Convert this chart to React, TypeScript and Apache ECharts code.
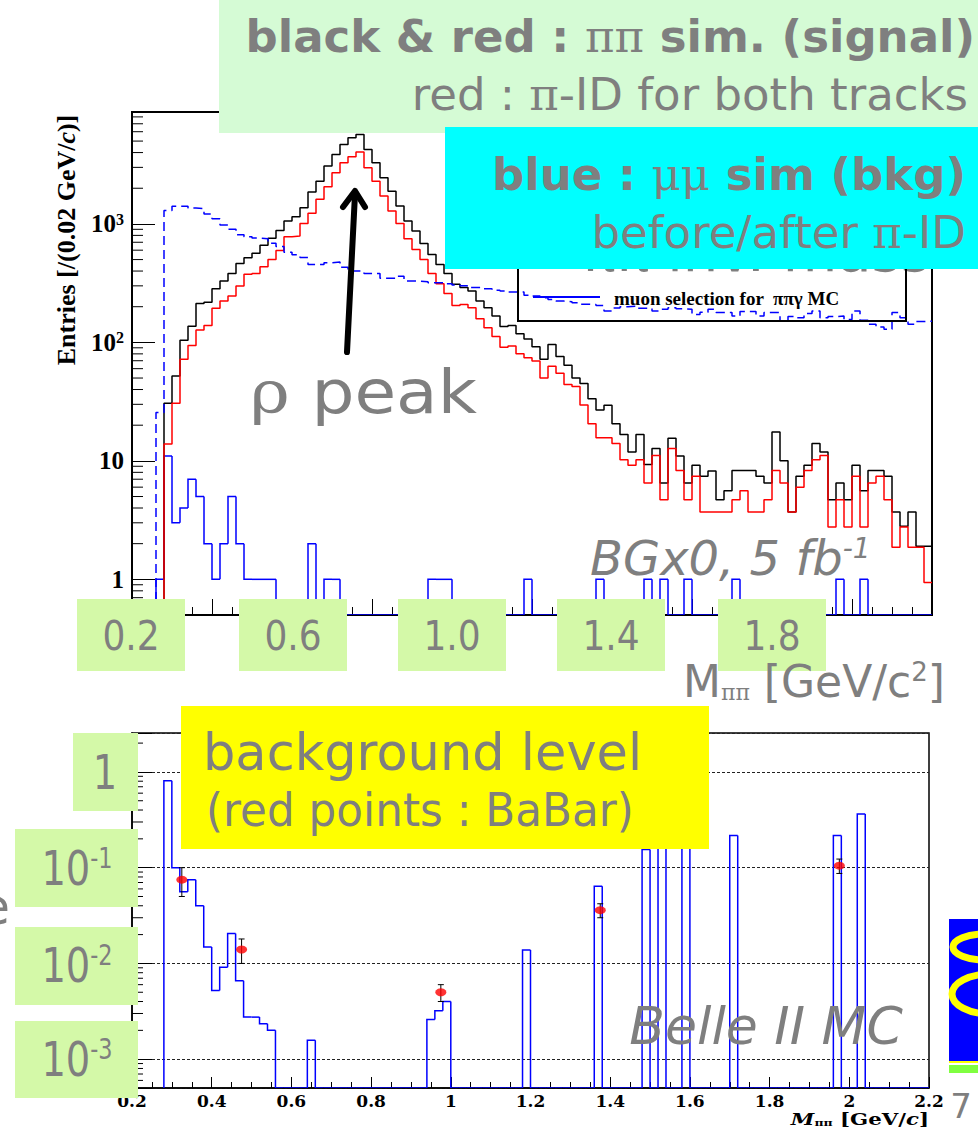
import React, { useEffect, useRef } from 'react';
import * as echarts from 'echarts';

// ---- binning and axis ranges ----
const BIN = 0.02;
const X_MIN = 0.2;
const X_MAX = 2.2;
const TOP_Y_MIN = 0.5;
const TOP_Y_MAX = 8800;
const BOT_Y_MIN = 5e-4;
const BOT_Y_MAX = 2.55;

// ---- upper panel: entries per 0.02 GeV/c ----
// pi pi simulation, all events (black), bins from 0.28
const pipiStart = 0.28;
const pipiAll = [
  30.6, 52, 104, 137, 213, 218, 284, 329, 382, 464,
  519, 564, 659, 755, 881, 1057, 1150, 1370, 1855, 2296,
  3075, 3855, 4690, 5340, 5690, 4255, 3280, 2455, 1890, 1415,
  1057, 870, 684, 553, 455, 382, 309, 290, 271, 223,
  196, 167, 136, 139, 118, 107, 92, 72, 96, 76,
  64, 50, 45, 33.5, 26.9, 29.4, 20.6, 16.7, 11.9, 16.7,
  9.3, 12.7, 6.5, 15.5, 11, 6.5, 9.2, 7.4, 8.2, 4.7,
  5.6, 8.3, 8.3, 8.3, 7.4, 6.5, 17.5, 10, 3.7, 7.4,
  9.2, 14, 11.9, 4.7, 6.5, 4.7, 9.2, 5.6, 8.3, 8.3,
  7.4, 3.7, 2.8, 3.7, 1.9, 1.9,
];
// pi pi simulation with pi-ID on both tracks (red), bins from 0.28
const pipiPid = [
  13.9, 30.6, 72, 94, 127, 139, 194, 223, 246, 299,
  375, 382, 435, 500, 597, 780, 790, 1009, 1227, 1612,
  2060, 2705, 3280, 3690, 4035, 2980, 2296, 1718, 1282, 1009,
  750, 609, 500, 382, 313, 259, 205, 209, 196, 158,
  133, 112, 91, 93, 80, 74, 69.5, 50, 63, 55,
  44, 42.5, 29.6, 20.6, 15.7, 15.7, 14, 10.2, 9.2, 10.2,
  6.5, 11.1, 4.7, 12.7, 8.3, 4.7, 7.4, 3.7, 3.7, 3.7,
  3.7, 4.7, 5.6, 3.7, 3.7, 4.7, 8.3, 6.5, 3.7, 6,
  8.3, 10.2, 11.1, 2.76, 4.7, 2.76, 7.4, 2.76, 6.5, 7.4,
  4.7, 1.87, 2.76, 1.87, 1.87, 0.94,
];
// mu mu simulation before pi-ID (blue dashed), bins from 0.26
const mumuStart = 0.26;
const mumuBefore = [
  25.6, 1300, 1410, 1410, 1360, 1350, 1210, 1105, 980, 900,
  810, 780, 760, 750, 685, 645, 575, 550, 520, 455,
  455, 470, 476, 430, 400, 400, 382, 382, 347, 347,
  362, 329, 329, 325, 319, 319, 312, 305, 300, 290,
  290, 284, 276, 271, 266, 266, 250, 246, 238, 230,
  223, 220, 216, 210, 209, 205, 184, 195, 200, 202,
  194, 194, 184, 190, 196, 192, 190, 172, 180, 190,
  179, 179, 167, 182, 182, 167, 179, 179, 151, 165,
  161, 175, 184, 161, 165, 167, 156, 184, 154, 142,
  135, 129, 179, 161, 142, 150, 151,
];
// mu mu simulation after pi-ID (blue solid): [bin low edge, entries], empty bins omitted
const mumuAfter = [
  [0.26, 1], [0.28, 11], [0.30, 3], [0.32, 4], [0.34, 7], [0.36, 5], [0.38, 2], [0.40, 1],
  [0.42, 2], [0.44, 5], [0.46, 2], [0.48, 1], [0.50, 1], [0.52, 1], [0.54, 1], [0.64, 2],
  [0.68, 1], [0.70, 1], [0.94, 1], [0.96, 1], [0.98, 1], [1.18, 1], [1.36, 1], [1.48, 1],
  [1.52, 1], [1.58, 1], [1.70, 1], [1.96, 1], [2.02, 1],
];

// ---- lower panel: background level ----
const bkgLevel = [
  [0.28, 0.81], [0.30, 0.10], [0.32, 0.056], [0.34, 0.075], [0.36, 0.040], [0.38, 0.0148],
  [0.40, 0.0052], [0.42, 0.0091], [0.44, 0.0205], [0.46, 0.0066], [0.48, 0.00275],
  [0.50, 0.00275], [0.52, 0.00235], [0.54, 0.0020], [0.64, 0.00158], [0.94, 0.0026],
  [0.96, 0.0032], [0.98, 0.0040], [1.18, 0.0138], [1.36, 0.064], [1.48, 0.155],
  [1.52, 0.21], [1.58, 0.21], [1.70, 0.217], [1.96, 0.217], [2.02, 0.363],
];
// BaBar points with error bars
const babarMass = [0.325, 0.475, 0.975, 1.375, 1.975];
const babarLevel = [0.075, 0.014, 0.005, 0.036, 0.105];
const babarLow = [0.05, 0.01, 0.004, 0.030, 0.087];
const babarHigh = [0.10, 0.018, 0.006, 0.042, 0.123];

// ---- tick labels ----
const topXTickLabels = ['0.2', '0.6', '1.0', '1.4', '1.8'];
const bottomYTickLabels = [['1', ''], ['10', '-1'], ['10', '-2'], ['10', '-3']];
const logMinorSteps = [2, 3, 4, 5, 6, 7, 8, 9];
const topDecades = [0.1, 1, 10, 100, 1000];
const bottomDecades = [0.0001, 0.001, 0.01, 0.1, 1];

// ---- helpers ----
const binKey = (x: number) => Math.round(x / BIN);

function denseBins(start: number, values: number[]): number[][] {
  return values.map((v, i) => [(binKey(start) + i) * BIN, v]);
}
function fillBins(pairs: number[][], start: number, end: number): number[][] {
  const m = new Map(pairs.map(([x, v]) => [binKey(x), v]));
  const out: number[][] = [];
  for (let k = binKey(start); k <= binKey(end); k++) out.push([k * BIN, m.get(k) ?? 0]);
  return out;
}
// one piece per bin: [low, 1, high, value, previous value]
function stepPieces(bins: number[][]) {
  return bins.map(([x, v], i) => [x, 1, x + BIN, v, i ? bins[i - 1][1] : 0]);
}
// outline for a step line series starting from the axis floor
function stepLine(bins: number[][], floor: number) {
  const last = bins[bins.length - 1];
  return [[bins[0][0], floor], ...bins, [last[0] + BIN, last[1]]];
}
function minorTicks(decades: number[], lo: number, hi: number) {
  return decades.flatMap((d) => logMinorSteps.map((s) => s * d)).filter((v) => v > lo && v < hi);
}

const histRender = (color: string) => (params: any, api: any) => {
  const cs = params.coordSys;
  const bottom = cs.y + cs.height;
  const lo = api.value(0);
  const xl = api.coord([lo, 1])[0];
  const xr = api.coord([api.value(2), 1])[0];
  const yOf = (v: number) => (v > 0 ? Math.min(api.coord([lo, v])[1], bottom) : bottom);
  const yv = yOf(api.value(3));
  const yp = yOf(api.value(4));
  return {
    type: 'polyline',
    silent: true,
    shape: { points: [[xl, yp], [xl, yv], [xr, yv]] },
    style: { stroke: color, lineWidth: 1.5, fill: 'none' },
  };
};

const minorTickRender = (len: number) => (params: any, api: any) => {
  const p = api.coord([api.value(0), api.value(1)]);
  return {
    type: 'line',
    silent: true,
    shape: { x1: p[0], y1: p[1], x2: p[0] + len, y2: p[1] },
    style: { stroke: '#000', lineWidth: 1 },
  };
};

const errorBarRender = (params: any, api: any) => {
  const x = api.value(0);
  const lo = api.coord([x, api.value(2)]);
  const hi = api.coord([x, api.value(3)]);
  const st = { stroke: '#000', lineWidth: 1 };
  return {
    type: 'group',
    silent: true,
    children: [
      { type: 'line', shape: { x1: lo[0], y1: lo[1], x2: hi[0], y2: hi[1] }, style: st },
      { type: 'line', shape: { x1: lo[0] - 3, y1: lo[1], x2: lo[0] + 3, y2: lo[1] }, style: st },
      { type: 'line', shape: { x1: hi[0] - 3, y1: hi[1], x2: hi[0] + 3, y2: hi[1] }, style: st },
    ],
  };
};

// ---- overlay styling ----
const GREY = '#7f7f7f';
const SANS = '"DejaVu Sans", sans-serif';
const GREEK = '"DejaVu Serif", serif';
const ROOT_FONT = '"Liberation Serif", "Times New Roman", serif';
const WIDE_SERIF = '"DejaVu Serif", serif';

function txt(text: string, x: number, y: number, fontSize: number, o: any = {}) {
  return {
    type: 'text',
    x,
    y,
    z: o.z ?? 100,
    silent: true,
    scaleX: o.scaleX ?? 1,
    rotation: o.rotation ?? 0,
    style: {
      text,
      fill: o.fill ?? GREY,
      fontSize,
      fontFamily: o.fontFamily ?? SANS,
      fontWeight: o.fontWeight ?? 'normal',
      fontStyle: o.fontStyle ?? 'normal',
      align: o.align ?? 'left',
      verticalAlign: 'middle',
      rich: o.rich,
    },
  };
}
function box(x: number, y: number, w: number, h: number, fill: string, z = 100) {
  return { type: 'rect', z, silent: true, shape: { x, y, width: w, height: h }, style: { fill } };
}
const greek = (fontSize: number, fill = GREY) => ({ fontFamily: GREEK, fontWeight: 'normal', fontSize, fill });

function buildGraphics() {
  const els: any[] = [];
  // title box
  els.push(box(219, 0, 759, 133, '#d5fbd5', 100));
  els.push(txt('black & red : {g|ππ} sim. (signal)', 975, 36, 45, { align: 'right', fontWeight: 'bold', z: 101, rich: { g: greek(45) } }));
  els.push(txt('red : {g|π}-ID for both tracks', 968, 94, 45, { align: 'right', z: 101, rich: { g: greek(45) } }));
  // partly covered caption under the cyan box
  els.push(txt('ππ inv. mass', 582, 251, 56, { z: 60 }));
  // cyan box
  els.push(box(445, 127, 533, 142, '#00ffff', 102));
  els.push(txt('blue : {g|μμ} sim (bkg)', 966, 174, 45, { align: 'right', fontWeight: 'bold', z: 103, rich: { g: greek(45) } }));
  els.push(txt('before/after {g|π}-ID', 966, 232, 45, { align: 'right', z: 103, rich: { g: greek(45) } }));

  // legend of the upper panel
  els.push({ type: 'rect', z: 60, silent: true, shape: { x: 518, y: 230, width: 388, height: 91 }, style: { fill: 'none', stroke: '#000', lineWidth: 2 } });
  els.push({ type: 'line', z: 60, silent: true, shape: { x1: 533, y1: 297, x2: 600, y2: 297 }, style: { stroke: '#0000ff', lineWidth: 2 } });
  els.push(txt('muon selection for  ππγ MC', 614, 298, 19, { fill: '#000', fontFamily: ROOT_FONT, fontWeight: 'bold', z: 60 }));

  // y title of the upper panel
  els.push(txt('Entries [/(0.02 GeV/{i|c})]', 66, 240, 26, {
    fill: '#000', fontFamily: ROOT_FONT, fontWeight: 'bold', align: 'center', rotation: Math.PI / 2, z: 10,
    rich: { i: { fontFamily: ROOT_FONT, fontWeight: 'bold', fontStyle: 'italic', fontSize: 26, fill: '#000' } },
  }));

  // rho peak annotation
  els.push(txt('{g|ρ} peak', 250, 392, 60, { scaleX: 1.13, rich: { g: greek(60) } }));
  els.push({ type: 'line', z: 100, silent: true, shape: { x1: 347, y1: 352, x2: 355, y2: 194 }, style: { stroke: '#000', lineWidth: 6, lineCap: 'round' } });
  els.push({ type: 'polyline', z: 100, silent: true, shape: { points: [[343, 207], [355, 191], [365, 207]] }, style: { stroke: '#000', lineWidth: 6, fill: 'none', lineCap: 'round', lineJoin: 'round' } });

  // x tick boxes of the upper panel
  const tickBoxLeft = [77, 239, 398, 557, 718];
  topXTickLabels.forEach((t, i) => {
    els.push(box(tickBoxLeft[i], 599, 108, 72, '#d4f9a8'));
    els.push(txt(t, tickBoxLeft[i] + 54, 636, 40, { align: 'center', scaleX: 0.9, z: 101 }));
  });

  els.push(txt('BGx0, 5 fb{s|-1}', 590, 558, 48, {
    fontStyle: 'italic', rich: { s: { fontSize: 28, fontStyle: 'italic', fontFamily: SANS, fill: GREY, verticalAlign: 'top' } },
  }));
  els.push(txt('M{b|ππ} [GeV/c{s|2}]', 945, 681, 44, {
    align: 'right',
    rich: {
      b: { fontSize: 22, fontFamily: GREEK, fill: GREY, verticalAlign: 'bottom' },
      s: { fontSize: 26, fontFamily: SANS, fill: GREY, verticalAlign: 'top' },
    },
  }));

  // lower panel annotations
  els.push(box(181, 706, 528, 143, '#ffff00'));
  els.push(txt('background level', 203, 752, 51, { z: 101 }));
  els.push(txt('(red points : BaBar)', 206, 810, 47, { scaleX: 0.93, z: 101 }));

  const yBox = [[73, 733, 65, 78], [15, 829, 123, 78], [15, 927, 123, 78], [15, 1021, 123, 77]];
  const yText = [[105, 772], [77, 868], [77, 965], [77, 1059]];
  bottomYTickLabels.forEach(([base, exp], i) => {
    const [bx, by, bw, bh] = yBox[i];
    els.push(box(bx, by, bw, bh, '#d4f9a8'));
    const t = exp ? `${base}{s|${exp}}` : base;
    els.push(txt(t, yText[i][0], yText[i][1], 48, {
      align: 'center', scaleX: 0.8, z: 101,
      rich: { s: { fontSize: 28, fontFamily: SANS, fill: GREY, verticalAlign: 'top' } },
    }));
  });
  els.push(txt('e', 10, 907, 50, { align: 'right' }));

  els.push(txt('Belle II MC', 766, 1026, 52, { align: 'center', fontStyle: 'italic' }));
  els.push(txt('{m|M}{b|ππ} [GeV/{c|c}]', 929, 1119, 17, {
    align: 'right', fill: '#000', fontFamily: WIDE_SERIF, fontWeight: 'bold', scaleX: 1.25, z: 10,
    rich: {
      m: { fontFamily: WIDE_SERIF, fontWeight: 'bold', fontStyle: 'italic', fontSize: 17, fill: '#000' },
      b: { fontFamily: WIDE_SERIF, fontWeight: 'bold', fontSize: 10, fill: '#000', verticalAlign: 'bottom' },
      c: { fontFamily: WIDE_SERIF, fontWeight: 'bold', fontStyle: 'italic', fontSize: 17, fill: '#000' },
    },
  }));
  els.push(txt('7', 961, 1106, 34, { align: 'center' }));

  // corner logo strip
  els.push(box(949, 919, 29, 143, '#0000ff'));
  els.push({ type: 'ellipse', z: 101, silent: true, shape: { cx: 985, cy: 947, rx: 32, ry: 13 }, style: { fill: 'none', stroke: '#ffff00', lineWidth: 7 } });
  els.push({ type: 'ellipse', z: 101, silent: true, shape: { cx: 990, cy: 994, rx: 38, ry: 20 }, style: { fill: 'none', stroke: '#ffff00', lineWidth: 7 } });
  els.push({ type: 'line', z: 101, silent: true, shape: { x1: 949, y1: 1062, x2: 978, y2: 1062 }, style: { stroke: '#ffff00', lineWidth: 2 } });
  els.push(box(949, 1065, 29, 8, '#80ff40'));
  return els;
}

function buildOption() {
  const blackBins = denseBins(pipiStart, pipiAll);
  const redBins = denseBins(pipiStart, pipiPid);
  const dashedBins = denseBins(mumuStart, mumuBefore);
  const afterBins = fillBins(mumuAfter, mumuStart, X_MAX - BIN);
  const ratioBins = fillBins(bkgLevel, 0.28, X_MAX - BIN);

  const topRich = {
    b: { fontFamily: ROOT_FONT, fontWeight: 'bold', fontSize: 25, color: '#000' },
    s: { fontFamily: ROOT_FONT, fontWeight: 'bold', fontSize: 16, color: '#000', verticalAlign: 'top' },
  };
  const topLabel = (v: number) => {
    const l = Math.log10(v);
    const e = Math.round(l);
    if (Math.abs(l - e) > 1e-6 || e < 0) return '';
    if (e === 0) return '{b|1}';
    if (e === 1) return '{b|10}';
    return `{b|10}{s|${e}}`;
  };

  const axisLineStyle = { color: '#000', width: 2 };
  return {
    animation: false,
    backgroundColor: '#ffffff',
    grid: [
      { left: 132, top: 112, width: 800, height: 503, show: true, borderColor: '#000', borderWidth: 2, backgroundColor: 'transparent', containLabel: false, outerBoundsMode: 'none' },
      { left: 132, top: 733, width: 797, height: 355, show: true, borderColor: '#000', borderWidth: 1.5, backgroundColor: 'transparent', containLabel: false, outerBoundsMode: 'none' },
    ],
    xAxis: [
      {
        gridIndex: 0, type: 'value', min: X_MIN, max: X_MAX, interval: 0.2,
        axisLine: { lineStyle: axisLineStyle },
        axisTick: { inside: true, length: 16, lineStyle: { color: '#000', width: 1 } },
        minorTick: { show: true, splitNumber: 4, length: 8, lineStyle: { color: '#000', width: 1 } },
        axisLabel: { show: false },
        splitLine: { show: false },
      },
      {
        gridIndex: 1, type: 'value', min: X_MIN, max: X_MAX, interval: 0.2,
        axisLine: { lineStyle: { color: '#000', width: 1.5 } },
        axisTick: { inside: true, length: 11, lineStyle: { color: '#000', width: 1 } },
        minorTick: { show: true, splitNumber: 4, length: 6, lineStyle: { color: '#000', width: 1 } },
        axisLabel: { fontFamily: WIDE_SERIF, fontWeight: 'bold', fontSize: 17, color: '#000', margin: 4 },
        splitLine: { show: false },
      },
    ],
    yAxis: [
      {
        gridIndex: 0, type: 'log', logBase: 10, min: TOP_Y_MIN, max: TOP_Y_MAX,
        axisLine: { show: true, lineStyle: axisLineStyle },
        axisTick: { show: true, inside: true, length: 23, lineStyle: { color: '#000', width: 1 } },
        axisLabel: { formatter: topLabel, rich: topRich, margin: 8, showMinLabel: false, showMaxLabel: false },
        splitLine: { show: false },
      },
      {
        gridIndex: 1, type: 'log', logBase: 10, min: BOT_Y_MIN, max: BOT_Y_MAX,
        axisLine: { show: true, lineStyle: { color: '#000', width: 1.5 } },
        axisTick: { show: true, inside: true, length: 20, lineStyle: { color: '#000', width: 1 } },
        axisLabel: { show: false },
        splitLine: { show: true, lineStyle: { color: '#222', width: 1, type: [3, 2] } },
      },
    ],
    series: [
      {
        type: 'line', name: 'pipi all', xAxisIndex: 0, yAxisIndex: 0, step: 'end', symbol: 'none', silent: true, clip: true,
        data: stepLine(blackBins, TOP_Y_MIN), lineStyle: { color: '#000000', width: 1.5 },
      },
      {
        type: 'line', name: 'pipi pi-ID', xAxisIndex: 0, yAxisIndex: 0, step: 'end', symbol: 'none', silent: true, clip: true,
        data: stepLine(redBins, TOP_Y_MIN), lineStyle: { color: '#ff0000', width: 1.5 },
      },
      {
        type: 'line', name: 'mumu before', xAxisIndex: 0, yAxisIndex: 0, step: 'end', symbol: 'none', silent: true, clip: true,
        data: stepLine(dashedBins, TOP_Y_MIN), lineStyle: { color: '#0000ff', width: 1.5, type: [9, 5] },
      },
      {
        type: 'custom', name: 'mumu after', xAxisIndex: 0, yAxisIndex: 0, clip: true, silent: true,
        encode: { x: 0, y: 1 }, data: stepPieces(afterBins), renderItem: histRender('#0000ff'),
      },
      {
        type: 'custom', name: 'top minor ticks', xAxisIndex: 0, yAxisIndex: 0, clip: true, silent: true,
        encode: { x: 0, y: 1 }, data: minorTicks(topDecades, TOP_Y_MIN, TOP_Y_MAX).map((v) => [X_MIN, v]),
        renderItem: minorTickRender(11),
      },
      {
        type: 'custom', name: 'background level', xAxisIndex: 1, yAxisIndex: 1, clip: true, silent: true,
        encode: { x: 0, y: 1 }, data: stepPieces(ratioBins), renderItem: histRender('#0000ff'),
      },
      {
        type: 'custom', name: 'bottom minor ticks', xAxisIndex: 1, yAxisIndex: 1, clip: true, silent: true,
        encode: { x: 0, y: 1 }, data: minorTicks(bottomDecades, BOT_Y_MIN, BOT_Y_MAX).map((v) => [X_MIN, v]),
        renderItem: minorTickRender(11),
      },
      {
        type: 'custom', name: 'BaBar errors', xAxisIndex: 1, yAxisIndex: 1, clip: true, silent: true, z: 3,
        encode: { x: 0, y: 1 },
        data: babarMass.map((m, i) => [m, babarLevel[i], babarLow[i], babarHigh[i]]),
        renderItem: errorBarRender,
      },
      {
        type: 'scatter', name: 'BaBar', xAxisIndex: 1, yAxisIndex: 1, silent: true, z: 4,
        symbol: 'circle', symbolSize: [11, 8], itemStyle: { color: '#ff0000' },
        data: babarMass.map((m, i) => [m, babarLevel[i]]),
      },
    ],
    graphic: { elements: buildGraphics() },
  };
}

export default function App() {
  const ref = useRef<HTMLDivElement>(null);
  useEffect(() => {
    if (!ref.current) return;
    const chart = echarts.init(ref.current, undefined, { renderer: 'svg' });
    chart.setOption(buildOption() as any);
    return () => chart.dispose();
  }, []);
  return (
    <div
      ref={ref}
      style={{ position: 'absolute', left: 0, top: 0, width: 978, height: 1133, background: '#fff' }}
    />
  );
}
